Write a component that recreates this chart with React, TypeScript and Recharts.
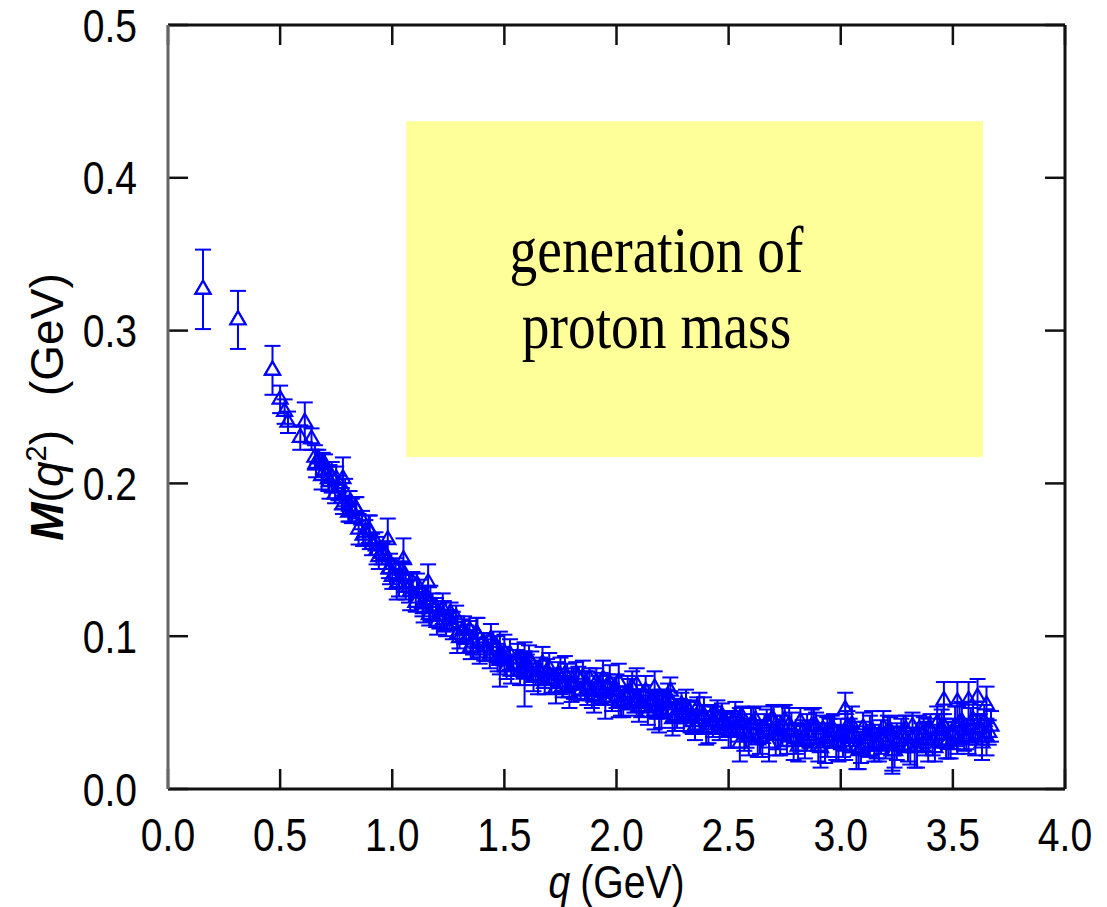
import React from 'react';
import { ScatterChart, Scatter, XAxis, YAxis, ErrorBar, ReferenceArea, ReferenceLine } from 'recharts';

// ---- axes ----
const xTicks = [0, 0.5, 1, 1.5, 2, 2.5, 3, 3.5, 4];
const yTicks = [0, 0.1, 0.2, 0.3, 0.4, 0.5];
const xDomain: [number, number] = [0, 4];
const yDomain: [number, number] = [0, 0.5];
// inward tick-mark length, expressed in data units of each axis
const xTickLen = 0.0893;
const yTickLen = 0.0131;

// ---- annotation box (data coordinates) ----
const boxX = [1.0625, 3.634];
const boxY = [0.2173, 0.437];
const boxLines = ['generation of', 'proton mass'];

// ---- data: q (GeV), M(q^2) (GeV), error ----
const earlyQ = [0.156, 0.312, 0.466, 0.50, 0.52, 0.535, 0.59, 0.61];
const earlyM = [0.327, 0.307, 0.274, 0.255, 0.247, 0.240, 0.230, 0.240];
const earlyErr = [0.026, 0.019, 0.016, 0.009, 0.008, 0.007, 0.008, 0.013];

const segAQ = [0.64, 0.655, 0.67, 0.685, 0.70, 0.715, 0.73, 0.745, 0.76, 0.775, 0.79, 0.805, 0.82, 0.835, 0.85, 0.865, 0.88, 0.895, 0.91, 0.925, 0.94, 0.955, 0.97, 0.985, 1.00];
const segAM = [0.229, 0.217, 0.216, 0.205, 0.212, 0.203, 0.204, 0.193, 0.197, 0.190, 0.194, 0.181, 0.182, 0.184, 0.170, 0.176, 0.168, 0.170, 0.160, 0.162, 0.152, 0.154, 0.153, 0.144, 0.139];
const segAErr = [0.007, 0.008, 0.006, 0.009, 0.007, 0.008, 0.010, 0.006, 0.008, 0.007, 0.009, 0.006, 0.008, 0.007, 0.010, 0.006, 0.008, 0.009, 0.007, 0.006, 0.008, 0.007, 0.009, 0.006, 0.008];

const segBQ = [1.015, 1.03, 1.045, 1.06, 1.075, 1.09, 1.105, 1.12, 1.135, 1.15, 1.165, 1.18, 1.195, 1.21, 1.225, 1.24, 1.255, 1.27, 1.285, 1.30, 1.315, 1.33, 1.345, 1.36, 1.375, 1.39, 1.405, 1.42, 1.435, 1.45, 1.465, 1.48, 1.495, 1.51, 1.525, 1.54, 1.555, 1.57, 1.585, 1.60];
const segBM = [0.144, 0.135, 0.143, 0.132, 0.132, 0.135, 0.122, 0.128, 0.121, 0.126, 0.114, 0.119, 0.119, 0.113, 0.118, 0.107, 0.111, 0.107, 0.112, 0.099, 0.104, 0.098, 0.104, 0.096, 0.102, 0.089, 0.096, 0.093, 0.087, 0.093, 0.093, 0.084, 0.087, 0.080, 0.088, 0.081, 0.085, 0.077, 0.081, 0.081];
const segBErr = [0.007, 0.009, 0.006, 0.008, 0.010, 0.007, 0.006, 0.009, 0.008, 0.007, 0.007, 0.009, 0.006, 0.008, 0.010, 0.007, 0.006, 0.009, 0.008, 0.007, 0.007, 0.009, 0.006, 0.008, 0.010, 0.007, 0.006, 0.009, 0.008, 0.007, 0.007, 0.009, 0.006, 0.008, 0.010, 0.007, 0.006, 0.009, 0.008, 0.007];

const segCQ = [1.62, 1.64, 1.66, 1.68, 1.70, 1.72, 1.74, 1.76, 1.78, 1.80, 1.82, 1.84, 1.86, 1.88, 1.90, 1.92, 1.94, 1.96, 1.98, 2.00, 2.02, 2.04, 2.06, 2.08, 2.10, 2.12, 2.14, 2.16, 2.18, 2.20, 2.22, 2.24, 2.26, 2.28, 2.30, 2.32, 2.34, 2.36, 2.38, 2.40, 2.42, 2.44, 2.46, 2.48, 2.50, 2.52, 2.54, 2.56, 2.58, 2.60];
const segCM = [0.082, 0.074, 0.077, 0.069, 0.079, 0.072, 0.075, 0.067, 0.073, 0.068, 0.075, 0.064, 0.068, 0.072, 0.060, 0.068, 0.063, 0.068, 0.060, 0.064, 0.056, 0.061, 0.063, 0.057, 0.054, 0.062, 0.050, 0.058, 0.055, 0.051, 0.057, 0.058, 0.047, 0.052, 0.048, 0.052, 0.044, 0.053, 0.046, 0.040, 0.047, 0.048, 0.041, 0.044, 0.037, 0.045, 0.039, 0.047, 0.036, 0.042];
const segCErr = [0.008, 0.006, 0.009, 0.007, 0.010, 0.006, 0.008, 0.007, 0.009, 0.011, 0.008, 0.006, 0.009, 0.007, 0.010, 0.006, 0.008, 0.007, 0.009, 0.011, 0.008, 0.006, 0.009, 0.007, 0.010, 0.006, 0.008, 0.007, 0.009, 0.011, 0.008, 0.006, 0.009, 0.007, 0.010, 0.006, 0.008, 0.007, 0.009, 0.011, 0.008, 0.006, 0.009, 0.007, 0.010, 0.006, 0.008, 0.007, 0.009, 0.011];

const segDQ = [2.62, 2.64, 2.66, 2.68, 2.70, 2.72, 2.74, 2.76, 2.78, 2.80, 2.82, 2.84, 2.86, 2.88, 2.90, 2.92, 2.94, 2.96, 2.98, 3.00, 3.02, 3.04, 3.06, 3.08, 3.10, 3.12, 3.14, 3.16, 3.18, 3.20, 3.22, 3.24, 3.26, 3.28, 3.30, 3.32, 3.34, 3.36, 3.38, 3.40, 3.42, 3.44, 3.46, 3.48, 3.50, 3.52, 3.54, 3.56, 3.58, 3.60, 3.62, 3.64, 3.66];
const segDM = [0.045, 0.034, 0.041, 0.030, 0.045, 0.035, 0.041, 0.031, 0.039, 0.033, 0.044, 0.031, 0.035, 0.041, 0.028, 0.039, 0.034, 0.040, 0.030, 0.036, 0.028, 0.035, 0.036, 0.025, 0.040, 0.030, 0.038, 0.028, 0.034, 0.030, 0.038, 0.025, 0.033, 0.036, 0.028, 0.041, 0.027, 0.035, 0.033, 0.039, 0.027, 0.038, 0.041, 0.032, 0.036, 0.032, 0.044, 0.034, 0.042, 0.032, 0.040, 0.044, 0.037];
const segDErr = [0.009, 0.011, 0.008, 0.012, 0.010, 0.009, 0.013, 0.008, 0.011, 0.010, 0.009, 0.011, 0.008, 0.012, 0.010, 0.009, 0.013, 0.008, 0.011, 0.010, 0.009, 0.011, 0.008, 0.012, 0.010, 0.009, 0.013, 0.008, 0.011, 0.010, 0.009, 0.011, 0.008, 0.012, 0.010, 0.009, 0.013, 0.008, 0.011, 0.010, 0.009, 0.011, 0.008, 0.012, 0.010, 0.009, 0.013, 0.008, 0.011, 0.010, 0.009, 0.011, 0.008];

// interleaved sets of further lattice points
const setEQ = [0.66, 0.69, 0.72, 0.75, 0.78, 0.81, 0.84, 0.87, 0.90, 0.93, 0.96, 0.99];
const setEM = [0.213, 0.213, 0.201, 0.203, 0.186, 0.185, 0.183, 0.166, 0.168, 0.156, 0.156, 0.144];
const setEErr = [0.009, 0.007, 0.011, 0.008, 0.006, 0.010, 0.008, 0.007, 0.011, 0.009, 0.006, 0.010];

const setFQ = [1.02, 1.05, 1.08, 1.11, 1.14, 1.17, 1.20, 1.23, 1.26, 1.29, 1.32, 1.35, 1.38, 1.41, 1.44, 1.47, 1.50, 1.53, 1.56, 1.59];
const setFM = [0.134, 0.140, 0.129, 0.134, 0.118, 0.122, 0.109, 0.113, 0.115, 0.101, 0.104, 0.093, 0.101, 0.091, 0.098, 0.086, 0.089, 0.077, 0.085, 0.079];
const setFErr = [0.010, 0.008, 0.012, 0.007, 0.009, 0.011, 0.008, 0.010, 0.007, 0.012, 0.009, 0.008, 0.011, 0.007, 0.010, 0.009, 0.012, 0.008, 0.010, 0.011];

const setGQ = [1.63, 1.67, 1.71, 1.75, 1.79, 1.83, 1.87, 1.91, 1.95, 1.99, 2.03, 2.07, 2.11, 2.15, 2.19, 2.23, 2.27, 2.31, 2.35, 2.39, 2.43, 2.47, 2.51, 2.55, 2.59];
const setGM = [0.073, 0.082, 0.071, 0.074, 0.063, 0.073, 0.066, 0.070, 0.058, 0.065, 0.057, 0.066, 0.056, 0.057, 0.049, 0.059, 0.048, 0.054, 0.041, 0.048, 0.044, 0.048, 0.038, 0.044, 0.034];
const setGErr = [0.009, 0.011, 0.008, 0.012, 0.010, 0.007, 0.011, 0.009, 0.012, 0.008, 0.010, 0.011, 0.009, 0.007, 0.012, 0.010, 0.008, 0.011, 0.009, 0.012, 0.010, 0.008, 0.011, 0.009, 0.012];

const setHQ = [2.63, 2.67, 2.71, 2.75, 2.79, 2.83, 2.87, 2.91, 2.95, 2.99, 3.03, 3.07, 3.11, 3.15, 3.19, 3.23, 3.27, 3.31, 3.35, 3.39, 3.43, 3.47, 3.51, 3.55, 3.59, 3.63, 3.67];
const setHM = [0.032, 0.043, 0.035, 0.045, 0.031, 0.037, 0.041, 0.027, 0.037, 0.030, 0.041, 0.027, 0.035, 0.030, 0.040, 0.025, 0.036, 0.028, 0.039, 0.032, 0.043, 0.030, 0.041, 0.034, 0.045, 0.030, 0.041];
const setHErr = [0.011, 0.009, 0.013, 0.010, 0.012, 0.008, 0.011, 0.013, 0.009, 0.012, 0.010, 0.014, 0.009, 0.012, 0.011, 0.013, 0.010, 0.012, 0.009, 0.014, 0.011, 0.010, 0.013, 0.009, 0.012, 0.011, 0.010];

const setIQ = [2.61, 2.65, 2.69, 2.73, 2.77, 2.81, 2.85, 2.89, 2.93, 2.97, 3.01, 3.05, 3.09, 3.13, 3.17, 3.21, 3.25, 3.29, 3.33, 3.37, 3.41, 3.45, 3.49, 3.53, 3.57, 3.61, 3.65];
const setIM = [0.043, 0.033, 0.045, 0.035, 0.042, 0.028, 0.037, 0.041, 0.030, 0.038, 0.031, 0.042, 0.026, 0.035, 0.029, 0.038, 0.031, 0.039, 0.027, 0.036, 0.032, 0.040, 0.029, 0.043, 0.034, 0.039, 0.034];
const setIErr = [0.010, 0.012, 0.009, 0.013, 0.011, 0.010, 0.012, 0.009, 0.013, 0.011, 0.010, 0.012, 0.009, 0.013, 0.011, 0.010, 0.012, 0.009, 0.013, 0.011, 0.010, 0.012, 0.009, 0.013, 0.011, 0.010, 0.012];

const setJQ = [1.61, 1.65, 1.69, 1.73, 1.77, 1.81, 1.85, 1.89, 1.93, 1.97, 2.01, 2.05, 2.09, 2.13, 2.17, 2.21, 2.25, 2.29, 2.33, 2.37, 2.41, 2.45, 2.49, 2.53, 2.57];
const setJM = [0.085, 0.073, 0.077, 0.066, 0.075, 0.068, 0.073, 0.061, 0.066, 0.069, 0.056, 0.063, 0.056, 0.064, 0.051, 0.056, 0.046, 0.055, 0.047, 0.051, 0.039, 0.047, 0.042, 0.047, 0.037];
const setJErr = [0.009, 0.011, 0.008, 0.010, 0.012, 0.009, 0.011, 0.008, 0.010, 0.012, 0.009, 0.011, 0.008, 0.010, 0.012, 0.009, 0.011, 0.008, 0.010, 0.012, 0.009, 0.011, 0.008, 0.010, 0.012];

const outQ = [0.78, 0.98, 1.05, 1.16, 1.48, 1.59, 1.94, 2.01, 2.09, 2.17, 2.24, 2.55, 3.02, 3.23, 3.46, 3.52, 3.57, 3.61, 3.65];
const outM = [0.203, 0.163, 0.150, 0.135, 0.085, 0.075, 0.072, 0.070, 0.068, 0.066, 0.064, 0.030, 0.052, 0.025, 0.058, 0.057, 0.058, 0.060, 0.055];
const outErr = [0.014, 0.014, 0.014, 0.012, 0.018, 0.021, 0.012, 0.012, 0.011, 0.011, 0.009, 0.012, 0.011, 0.015, 0.012, 0.013, 0.012, 0.012, 0.012];

// the three isolated low-q points, whose open markers hide their error bar
const isolatedCount = 3;

const build = (qs: number[], ms: number[], es: number[]) =>
  qs.map((q, i) => ({ q, m: ms[i], err: es[i] }));

const data = [
  ...build(earlyQ, earlyM, earlyErr),
  ...build(segAQ, segAM, segAErr),
  ...build(setEQ, setEM, setEErr),
  ...build(segBQ, segBM, segBErr),
  ...build(setFQ, setFM, setFErr),
  ...build(segCQ, segCM, segCErr),
  ...build(setGQ, setGM, setGErr),
  ...build(setJQ, setJM, setJErr),
  ...build(segDQ, segDM, segDErr),
  ...build(setHQ, setHM, setHErr),
  ...build(setIQ, setIM, setIErr),
  ...build(outQ, outM, outErr),
];
const isolated = build(earlyQ, earlyM, earlyErr).slice(0, isolatedCount);

const SANS = "'Liberation Sans', Arial, Helvetica, sans-serif";
const SERIF = "'Liberation Serif', 'Times New Roman', serif";
const BLUE = '#0000ff';
const AXIS = '#111';

const BottomTick = (props: any) => {
  const { x, payload } = props;
  const base = 789;
  return (
    <g transform={`translate(${x},${base + 62}) scale(0.85,1)`}>
      <text x={0} y={0} textAnchor="middle" fontSize={46} fontFamily={SANS} fill="#000">
        {Number(payload.value).toFixed(1)}
      </text>
    </g>
  );
};

const LeftTick = (props: any) => {
  const { y, payload } = props;
  return (
    <g transform={`translate(137,${y + 16.5}) scale(0.85,1)`}>
      <text x={0} y={0} textAnchor="end" fontSize={46} fontFamily={SANS} fill="#000">
        {Number(payload.value).toFixed(1)}
      </text>
    </g>
  );
};

const XLabel = (props: any) => {
  const vb = props.viewBox || { x: 168, y: 789, width: 897, height: 118 };
  const cx = vb.x + vb.width / 2;
  const by = vb.y + 109;
  return (
    <g transform={`translate(${cx},${by}) scale(0.85,1)`}>
      <text x={0} y={0} textAnchor="middle" fontSize={46} fontFamily={SANS} fill="#000">
        <tspan fontStyle="italic">q</tspan>
        <tspan dx={12}>(GeV)</tspan>
      </text>
    </g>
  );
};

const YLabel = (props: any) => {
  const vb = props.viewBox || { x: 0, y: 25, width: 168, height: 764 };
  const cy = vb.y + vb.height / 2;
  return (
    <g transform={`translate(63,${cy}) rotate(-90)`}>
      <text x={0} y={0} textAnchor="middle" fontSize={46} fontFamily={SANS} fill="#000">
        <tspan fontStyle="italic" fontWeight="bold">M</tspan>
        <tspan>(</tspan>
        <tspan fontStyle="italic">q</tspan>
        <tspan dy={-17} fontSize={29}>2</tspan>
        <tspan dy={17}>)</tspan>
        <tspan dx={34}>(GeV)</tspan>
      </text>
    </g>
  );
};

const BoxLabel = (props: any) => {
  const vb = props.viewBox || { x: 406, y: 121, width: 576, height: 336 };
  const cx = vb.x + vb.width * 0.434;
  return (
    <g>
      {boxLines.map((line, i) => (
        <g key={line} transform={`translate(${cx},${vb.y + 151 + i * 76}) scale(0.84,1)`}>
          <text x={0} y={0} textAnchor="middle" fontSize={66} fontFamily={SERIF} fill="#000">
            {line}
          </text>
        </g>
      ))}
    </g>
  );
};

const makeTriangle = (fill: string) => (props: any) => {
  const { cx, cy } = props;
  if (cx == null || cy == null) return <g />;
  const s = 15;
  const h = 13;
  const pts = `${cx},${cy - (2 * h) / 3} ${cx - s / 2},${cy + h / 3} ${cx + s / 2},${cy + h / 3}`;
  return <polygon points={pts} fill={fill} stroke={BLUE} strokeWidth={2.2} />;
};
const OpenTriangle = makeTriangle('none');
const WhiteTriangle = makeTriangle('#fff');

export default function App() {
  return (
    <div style={{ position: 'absolute', left: 0, top: 0, width: 1107, height: 907, background: '#fff' }}>
      <ScatterChart width={1107} height={907} margin={{ top: 25, right: 42, bottom: 0, left: 0 }}>
        <XAxis
          xAxisId="b"
          dataKey="q"
          type="number"
          domain={xDomain}
          ticks={xTicks}
          interval={0}
          height={118}
          tickLine={false}
          tick={<BottomTick />}
          axisLine={{ stroke: AXIS, strokeWidth: 3 }}
          label={<XLabel />}
          allowDataOverflow
        />
        <YAxis
          yAxisId="l"
          dataKey="m"
          type="number"
          domain={yDomain}
          ticks={yTicks}
          interval={0}
          width={168}
          tickLine={false}
          tick={<LeftTick />}
          axisLine={{ stroke: '#666', strokeWidth: 3 }}
          label={<YLabel />}
          allowDataOverflow
        />
        <ReferenceArea
          xAxisId="b"
          yAxisId="l"
          x1={boxX[0]}
          x2={boxX[1]}
          y1={boxY[0]}
          y2={boxY[1]}
          fill="#ffff99"
          fillOpacity={1}
          stroke="none"
          label={<BoxLabel />}
          ifOverflow="visible"
        />
        {/* top and right frame lines */}
        <ReferenceLine xAxisId="b" yAxisId="l" y={yDomain[1]} stroke={AXIS} strokeWidth={3} ifOverflow="visible" />
        <ReferenceLine xAxisId="b" yAxisId="l" x={xDomain[1]} stroke={AXIS} strokeWidth={3} ifOverflow="visible" />
        {/* inward tick marks on all four sides */}
        {xTicks.map((t) => (
          <ReferenceLine
            key={`xb${t}`}
            xAxisId="b"
            yAxisId="l"
            segment={[{ x: t, y: yDomain[0] }, { x: t, y: yDomain[0] + yTickLen }]}
            stroke={AXIS}
            strokeWidth={2.5}
            ifOverflow="visible"
          />
        ))}
        {xTicks.map((t) => (
          <ReferenceLine
            key={`xt${t}`}
            xAxisId="b"
            yAxisId="l"
            segment={[{ x: t, y: yDomain[1] }, { x: t, y: yDomain[1] - yTickLen }]}
            stroke={AXIS}
            strokeWidth={2.5}
            ifOverflow="visible"
          />
        ))}
        {yTicks.map((t) => (
          <ReferenceLine
            key={`yl${t}`}
            xAxisId="b"
            yAxisId="l"
            segment={[{ x: xDomain[0], y: t }, { x: xDomain[0] + xTickLen, y: t }]}
            stroke={AXIS}
            strokeWidth={2.5}
            ifOverflow="visible"
          />
        ))}
        {yTicks.map((t) => (
          <ReferenceLine
            key={`yr${t}`}
            xAxisId="b"
            yAxisId="l"
            segment={[{ x: xDomain[1], y: t }, { x: xDomain[1] - xTickLen, y: t }]}
            stroke={AXIS}
            strokeWidth={2.5}
            ifOverflow="visible"
          />
        ))}
        <Scatter
          xAxisId="b"
          yAxisId="l"
          data={data}
          dataKey="m"
          shape={<OpenTriangle />}
          isAnimationActive={false}
        >
          <ErrorBar dataKey="err" direction="y" width={8} stroke={BLUE} strokeWidth={2} isAnimationActive={false} />
        </Scatter>
        <Scatter
          xAxisId="b"
          yAxisId="l"
          data={isolated}
          dataKey="m"
          shape={<WhiteTriangle />}
          isAnimationActive={false}
        />
      </ScatterChart>
    </div>
  );
}
